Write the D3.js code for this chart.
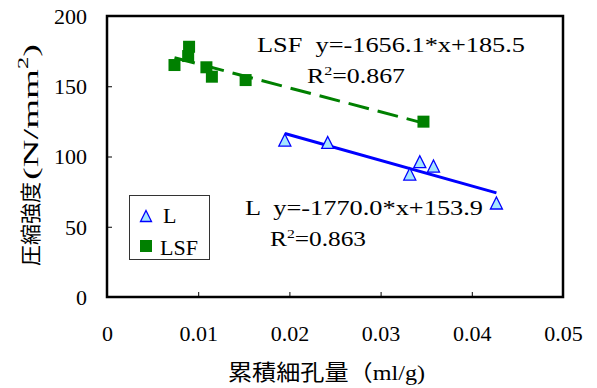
<!DOCTYPE html>
<html>
<head>
<meta charset="utf-8">
<script src="https://cdn.jsdelivr.net/npm/d3@7/dist/d3.min.js"></script>
<style>
  body { margin: 0; background: #fff; }
  text { font-family: "Liberation Serif", "Noto Sans CJK JP", serif; fill: #000; white-space: pre; }
</style>
</head>
<body>
<svg id="chart" width="597" height="388"></svg>
<script>
// data
var lX = [0.0195, 0.0242, 0.0332, 0.0343, 0.0358, 0.0427]
var lY = [111.7, 110.0, 87.5, 96.3, 93.2, 66.9]
var lsfX = [0.0074, 0.0090, 0.0089, 0.0109, 0.0115, 0.0152, 0.0347]
var lsfY = [165.1, 178.1, 171.5, 163.5, 156.8, 154.4, 124.8]
var xTicks = [0, 0.01, 0.02, 0.03, 0.04, 0.05]
var yTicks = [0, 50, 100, 150, 200]
var seriesNames = ["L", "LSF"]
var eqL = "L  y=-1770.0*x+153.9", r2L = "0.863"
var eqLSF = "LSF  y=-1656.1*x+185.5", r2LSF = "0.867"

var svg = d3.select("#chart")
const m = { left: 107, right: 563, top: 16, bottom: 297 }

var x = d3.scaleLinear().domain([0, 0.05]).range([m.left, m.right])
var y = d3.scaleLinear().domain([0, 200]).range([m.bottom, m.top])

// least squares trend line over the series' x range
function trend (xs, ys) {
    var mx = d3.mean(xs), my = d3.mean(ys)
    var sxy = d3.sum(xs, (d, i) => (d - mx) * (ys[i] - my))
    var sxx = d3.sum(xs, d => (d - mx) * (d - mx))
    var b = sxy / sxx, a = my - b * mx
    var x0 = d3.min(xs), x1 = d3.max(xs)
    return [[x0, a + b * x0], [x1, a + b * x1]]
}

function triangle (s) {
    var p = d3.path()
    p.moveTo(0, -s / 2); p.lineTo(s / 2, s / 2); p.lineTo(-s / 2, s / 2); p.closePath()
    return p.toString()
}

// axes (ticks inside)
svg.append("g").attr("transform", `translate(0,${m.bottom})`)
    .call(d3.axisBottom(x).tickValues(xTicks).tickSizeInner(-5).tickSizeOuter(0).tickFormat(d => d === 0 ? "0" : d.toFixed(2)))
    .call(g => g.select(".domain").remove())
    .call(g => g.selectAll("text").attr("y", 44).attr("dy", 0).attr("font-size", 22))
svg.append("g").attr("transform", `translate(${m.left},0)`)
    .call(d3.axisLeft(y).tickValues(yTicks).tickSizeInner(-5).tickSizeOuter(0))
    .call(g => g.select(".domain").remove())
    .call(g => g.selectAll("text").attr("x", -20).attr("dy", "0.34em").attr("font-size", 22))

svg.append("rect").attr("x", m.left).attr("y", m.top).attr("width", m.right - m.left).attr("height", m.bottom - m.top)
    .attr("fill", "none").attr("stroke", "#000").attr("stroke-width", 2.5)

// trend lines
var line = d3.line().x(d => x(d[0])).y(d => y(d[1]))
svg.append("path").attr("d", line(trend(lX, lY)))
    .attr("stroke", "#0000ff").attr("stroke-width", 3).attr("fill", "none")
svg.append("path").attr("d", line(trend(lsfX, lsfY)))
    .attr("stroke", "#008000").attr("stroke-width", 3).attr("fill", "none").attr("stroke-dasharray", "21,9")

// points
svg.append("g").selectAll("path").data(lX).enter().append("path")
    .attr("d", triangle(12))
    .attr("transform", (d, i) => `translate(${x(d)},${y(lY[i])})`)
    .attr("fill", "#a6e6ff").attr("stroke", "#0000ff").attr("stroke-width", 1.3)
svg.append("g").selectAll("rect").data(lsfX).enter().append("rect")
    .attr("x", d => x(d) - 6).attr("y", (d, i) => y(lsfY[i]) - 6)
    .attr("width", 12).attr("height", 12).attr("fill", "#008000")

// equations
function equation (txt, r2, ex, ey, w, rx, rw) {
    svg.append("text").attr("x", ex).attr("y", ey).attr("font-size", 21)
        .attr("textLength", w).attr("lengthAdjust", "spacingAndGlyphs").text(txt)
    var t = svg.append("text").attr("x", rx).attr("y", ey + 31).attr("font-size", 21)
        .attr("textLength", rw).attr("lengthAdjust", "spacingAndGlyphs")
    t.append("tspan").text("R")
    t.append("tspan").attr("font-size", 13).attr("dy", -8).text("2")
    t.append("tspan").attr("dy", 8).text("=" + r2)
}
equation(eqLSF, r2LSF, 257, 52, 268, 307, 98)
equation(eqL, r2L, 245, 215, 238, 270, 96)

// legend
var lg = svg.append("g")
lg.append("rect").attr("x", 129.5).attr("y", 195.5).attr("width", 80).attr("height", 64)
    .attr("fill", "#fff").attr("stroke", "#333").attr("stroke-width", 1)
lg.append("path").attr("d", triangle(11)).attr("transform", "translate(146,216)")
    .attr("fill", "#a6e6ff").attr("stroke", "#0000ff").attr("stroke-width", 1.3)
lg.append("rect").attr("x", 140).attr("y", 240).attr("width", 12).attr("height", 12).attr("fill", "#008000")
lg.selectAll("text").data(seriesNames).enter().append("text")
    .attr("x", (d, i) => i === 0 ? 163 : 160).attr("y", (d, i) => i === 0 ? 223 : 255)
    .attr("font-size", 22).text(d => d)

// axis titles
svg.append("text").attr("x", 228).attr("y", 380).attr("font-size", 22)
    .attr("textLength", 197).attr("lengthAdjust", "spacingAndGlyphs")
    .text("累積細孔量（ml/g)")
svg.append("text").attr("transform", "translate(38,266) rotate(-90)").attr("font-size", 21)
    .text("圧縮強度")
var yt = svg.append("text").attr("transform", "translate(38,180) rotate(-90)").attr("font-size", 22)
    .attr("textLength", 136).attr("lengthAdjust", "spacingAndGlyphs")
yt.append("tspan").text("(N/mm")
yt.append("tspan").attr("font-size", 14).attr("dy", -10).text("2")
yt.append("tspan").attr("dy", 10).text(")")
</script>
</body>
</html>
